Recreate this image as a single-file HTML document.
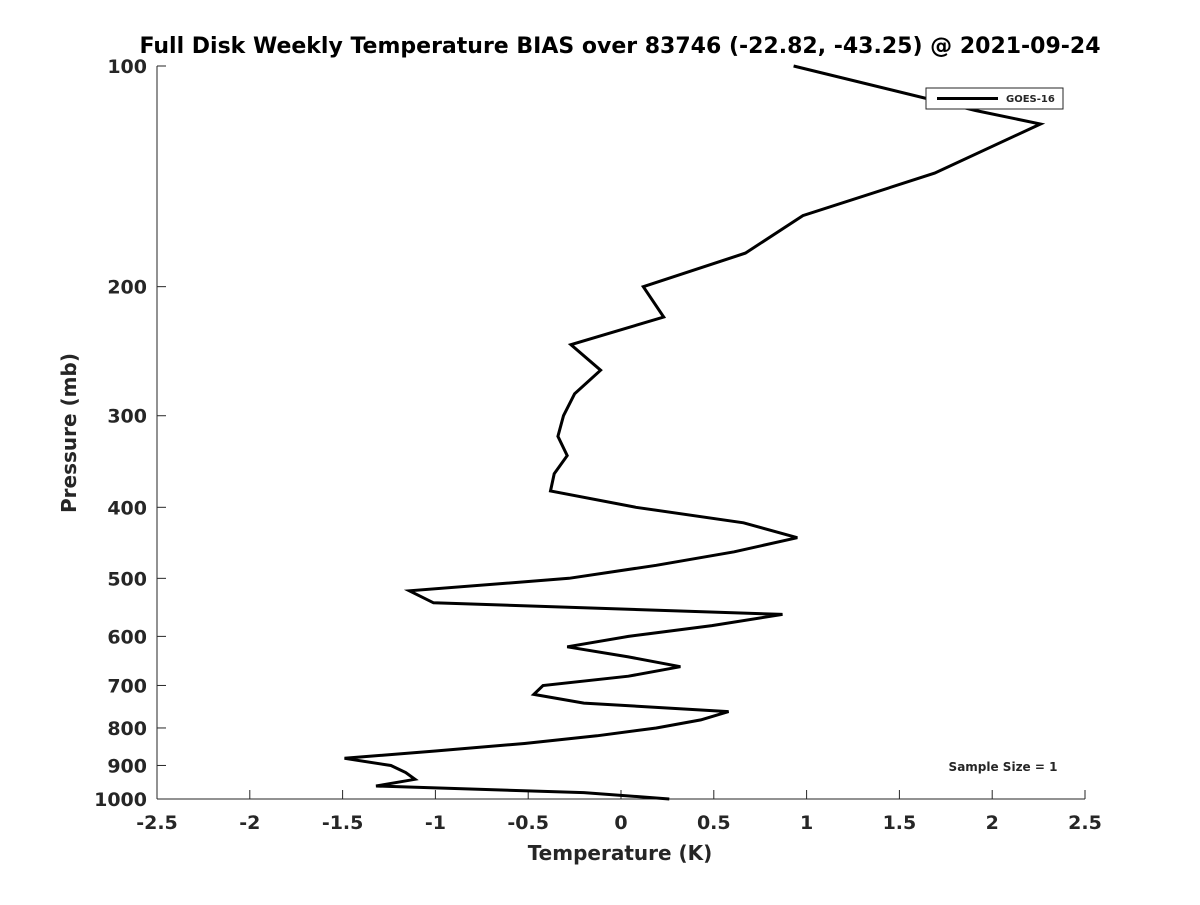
<!DOCTYPE html>
<html><head><meta charset="utf-8"><style>
body{margin:0;background:#fff;}
svg text{font-family:"DejaVu Sans","Liberation Sans",sans-serif;font-weight:bold;fill:#262626;}
</style></head><body>
<svg width="1200" height="900" xmlns="http://www.w3.org/2000/svg">
<rect width="1200" height="900" fill="#fff"/>
<text x="620" y="53" font-size="22" text-anchor="middle" fill="#000" style="fill:#000">Full Disk Weekly Temperature BIAS over 83746 (-22.82, -43.25) @ 2021-09-24</text>
<g id="axes"></g>
<g id="plot"></g>
<text x="620" y="860" font-size="20" text-anchor="middle">Temperature (K)</text>
<text transform="translate(76,433) rotate(-90)" font-size="20" text-anchor="middle">Pressure (mb)</text>
<g>
<rect x="926" y="88" width="137" height="21" fill="#fff" stroke="#262626" stroke-width="1"/>
<line x1="937" y1="98.5" x2="998" y2="98.5" stroke="#000" stroke-width="3"/>
<text x="1006" y="102" font-size="10">GOES-16</text>
</g>
<text x="1003" y="771" font-size="12" text-anchor="middle">Sample Size = 1</text>
</svg>
<script>
const pressures=[100,115,120,140,160,180,200,220,240,260,280,300,320,340,360,380,400,420,440,460,480,500,520,540,560,580,600,620,640,660,680,700,720,740,760,780,800,820,840,860,880,900,920,940,960,980,1000];
const bias=[0.93,1.91,2.26,1.69,0.98,0.67,0.12,0.23,-0.27,-0.11,-0.25,-0.31,-0.34,-0.29,-0.36,-0.38,0.08,0.66,0.95,0.61,0.19,-0.28,-1.14,-1.01,0.87,0.49,0.04,-0.29,0.04,0.32,0.04,-0.42,-0.47,-0.2,0.58,0.43,0.19,-0.13,-0.52,-1.0,-1.49,-1.24,-1.16,-1.11,-1.32,-0.2,0.26];
const xTicks=[-2.5,-2,-1.5,-1,-0.5,0,0.5,1,1.5,2,2.5];
const xTickLabels=["-2.5","-2","-1.5","-1","-0.5","0","0.5","1","1.5","2","2.5"];
const yTicks=[100,200,300,400,500,600,700,800,900,1000];
const NS="http://www.w3.org/2000/svg";
const X0=157,X1=1085,Y0=66,Y1=799;
function xs(v){return X0+(v+2.5)/5*(X1-X0);}
function ys(p){return Y0+Math.log10(p/100)*(Y1-Y0);}
const axes=document.getElementById('axes');
function mk(tag,attrs,parent){const e=document.createElementNS(NS,tag);for(const k in attrs)e.setAttribute(k,attrs[k]);parent.appendChild(e);return e;}
const xl=mk('line',{x1:X0,y1:Y1,x2:X1,y2:Y1,stroke:'#262626','stroke-width':1},axes);


const yl=mk('line',{x1:X0,y1:Y0,x2:X0,y2:Y1,stroke:'#262626','stroke-width':1},axes);


xTicks.forEach((v,i)=>{
  const x=xs(v);
  mk('line',{x1:x,y1:Y1,x2:x,y2:Y1-9,stroke:'#262626'},axes);
  const t=mk('text',{x:x,y:829,'font-size':19,'text-anchor':'middle'},axes);
  t.textContent=xTickLabels[i];
  
  
});
yTicks.forEach(p=>{
  const y=ys(p);
  mk('line',{x1:X0,y1:y,x2:X0+9,y2:y,stroke:'#262626'},axes);
  const t=mk('text',{x:147,y:y+7,'font-size':19,'text-anchor':'end'},axes);
  t.textContent=String(p);
  
  
});
const pts=pressures.map((p,i)=>xs(bias[i]).toFixed(1)+','+ys(p).toFixed(1)).join(' ');
const line=mk('polyline',{points:pts,fill:'none',stroke:'#000','stroke-width':3,'stroke-linejoin':'miter'},document.getElementById('plot'));


</script>
</body></html>
